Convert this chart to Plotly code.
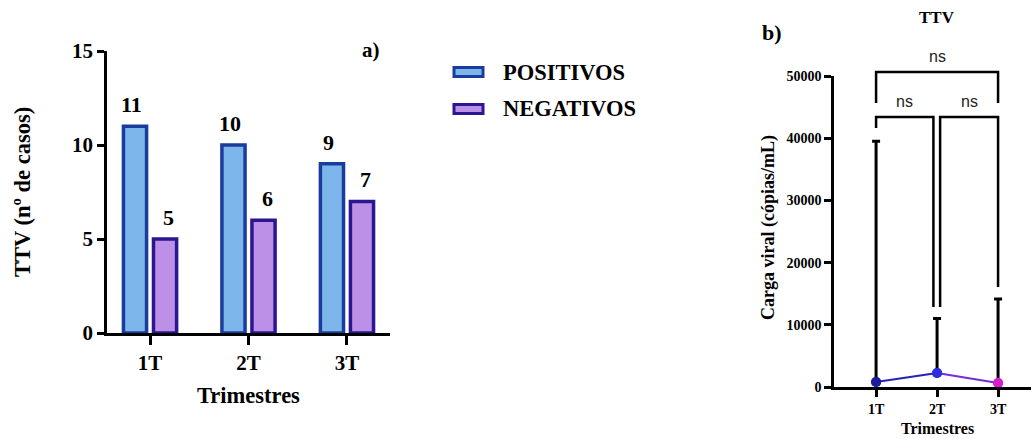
import plotly.graph_objects as go

# ---- data ----
trimestres = ["1T", "2T", "3T"]
positivos = [11, 10, 9]
negativos = [5, 6, 7]

carga_media = [800, 2250, 640]
carga_erro_sup = [38700, 8750, 13500]   # upper error (top of bar minus mean)
ponto_cores = ["#1c1c9c", "#2d2de0", "#d81fd0"]
segmento_cores = ["#2323b8", "#7a2ad6"]

# significance brackets: (x_left, x_right, top, left foot, right foot, label, label height)
brackets = [
    (0.0, 2.0, 50650, 45670, 45670, "ns", 53100),
    (0.0, 0.94, 43420, 41650, 12860, "ns", 45900),
    (1.05, 2.0, 43420, 12860, 16080, "ns", 45900),
]

SERIF = "Liberation Serif, Times New Roman, serif"
W, H = 1031, 439

# ---- axis geometry ----
x1_range = [-0.437, 2.437]
x1_domain = [107 / W, 390 / W]
y1_domain = [1 - 333 / H, 1 - 51 / H]

x2_range = [-0.69, 2.54]
x2_domain = [834 / W, 1.0]
y2_range = [0, 50000]
y2_domain = [1 - 387 / H, 1 - 76 / H]

fig = go.Figure()

fig.add_trace(go.Bar(
    x=trimestres, y=positivos, name="POSITIVOS",
    marker=dict(color="#7cb6ea", line=dict(color="#1a3c9c", width=3.5)),
    xaxis="x", yaxis="y", showlegend=False,
))
fig.add_trace(go.Bar(
    x=trimestres, y=negativos, name="NEGATIVOS",
    marker=dict(color="#bd90e8", line=dict(color="#2b1590", width=3.5)),
    xaxis="x", yaxis="y", showlegend=False,
))

# error bars (upper only) with the mean points
fig.add_trace(go.Scatter(
    x=trimestres, y=carga_media, mode="markers",
    marker=dict(color=ponto_cores, size=10),
    error_y=dict(type="data", symmetric=False, array=carga_erro_sup,
                 arrayminus=[0, 0, 0], color="black", thickness=3, width=4),
    xaxis="x2", yaxis="y2", showlegend=False, cliponaxis=False,
))
# connecting segments between consecutive trimesters
for i, cor in enumerate(segmento_cores):
    fig.add_trace(go.Scatter(
        x=trimestres[i:i + 2], y=carga_media[i:i + 2], mode="lines",
        line=dict(color=cor, width=2.2),
        xaxis="x2", yaxis="y2", showlegend=False,
    ))
# markers again on top of the segments
fig.add_trace(go.Scatter(
    x=trimestres, y=carga_media, mode="markers",
    marker=dict(color=ponto_cores, size=10),
    xaxis="x2", yaxis="y2", showlegend=False, cliponaxis=False,
))

annotations = []
shapes = []

# value labels above bars
for cat, p, n in zip(trimestres, positivos, negativos):
    for val, dx in ((p, -18.5), (n, 18.5)):
        annotations.append(dict(
            x=cat, y=val, xref="x", yref="y", text=str(val), showarrow=False,
            xshift=dx, yshift=7, yanchor="bottom",
            font=dict(family=SERIF, size=22, color="black", weight="bold"),
        ))

# legend drawn with swatches
legend_items = [("POSITIVOS", "#7cb6ea", "#1a3c9c", 72), ("NEGATIVOS", "#bd90e8", "#2b1590", 109)]
for label, fill, edge, ypx in legend_items:
    shapes.append(dict(
        type="rect", xref="paper", yref="paper",
        x0=454 / W, x1=483 / W, y0=1 - (ypx + 4.5) / H, y1=1 - (ypx - 4.5) / H,
        fillcolor=fill, line=dict(color=edge, width=3),
    ))
    annotations.append(dict(
        x=501 / W, y=1 - ypx / H, xref="paper", yref="paper", text=label,
        showarrow=False, xanchor="left", yanchor="middle",
        font=dict(family=SERIF, size=22.5, color="black", weight="bold"),
    ))


def text_px(txt, x, y, size, **kw):
    d = dict(x=x / W, y=1 - y / H, xref="paper", yref="paper", text=txt,
             showarrow=False, xanchor="center", yanchor="middle",
             font=dict(family=SERIF, size=size, color="black", weight="bold"))
    d.update(kw)
    annotations.append(d)


# panel a texts
text_px("a)", 371, 50, 21)
text_px("TTV (nº de casos)", 22, 192, 22.5, textangle=-90)
text_px("Trimestres", 248, 395, 22.5)

# panel b texts
text_px("b)", 772, 32, 22)
text_px("TTV", 937, 18, 17)
text_px("Carga viral (cópias/mL)", 768, 228, 18, textangle=-90)
text_px("Trimestres", 937, 439, 16, yanchor="bottom")


def xd(i):
    return (i - x2_range[0]) / (x2_range[1] - x2_range[0])


def yd(v):
    return (v - y2_range[0]) / (y2_range[1] - y2_range[0])


for xl, xr, top, fl, fr, lab, ylab in brackets:
    path = (f"M {xd(xl)} {yd(fl)} L {xd(xl)} {yd(top)} "
            f"L {xd(xr)} {yd(top)} L {xd(xr)} {yd(fr)}")
    shapes.append(dict(type="path", path=path, xref="x2 domain", yref="y2 domain",
                       line=dict(color="black", width=2.5)))
    annotations.append(dict(
        x=xd((xl + xr) / 2), y=yd(ylab), xref="x2 domain", yref="y2 domain",
        text=lab, showarrow=False, xanchor="center", yanchor="middle",
        font=dict(family="Liberation Sans, Arial, sans-serif", size=16, color="#222"),
    ))

axis_common = dict(showline=True, linecolor="black", linewidth=2.5, showgrid=False,
                   zeroline=False, ticks="outside", tickcolor="black", tickwidth=2.5,
                   automargin=False)

fig.update_layout(
    width=W, height=H, autosize=False,
    margin=dict(l=0, r=0, t=0, b=0, pad=0, autoexpand=False),
    paper_bgcolor="white", plot_bgcolor="white",
    showlegend=False,
    barmode="group", bargap=0.39, bargroupgap=0.23,
    xaxis=dict(domain=x1_domain, range=x1_range, anchor="y", ticklen=9,
               tickfont=dict(family=SERIF, size=21, color="black", weight="bold"),
               **axis_common),
    yaxis=dict(domain=y1_domain, range=[0, 15], tickvals=[0, 5, 10, 15], anchor="x",
               ticklen=7,
               tickfont=dict(family=SERIF, size=21, color="black", weight="bold"),
               **axis_common),
    xaxis2=dict(domain=x2_domain, range=x2_range, anchor="y2", ticklen=7,
                tickfont=dict(family=SERIF, size=14, color="black", weight="bold"),
                **axis_common),
    yaxis2=dict(domain=y2_domain, range=y2_range, anchor="x2", ticklen=7,
                tickvals=[0, 10000, 20000, 30000, 40000, 50000], tickformat="d",
                tickfont=dict(family=SERIF, size=14, color="black", weight="bold"),
                **axis_common),
    annotations=annotations,
    shapes=shapes,
)

fig.write_html("out.html")
